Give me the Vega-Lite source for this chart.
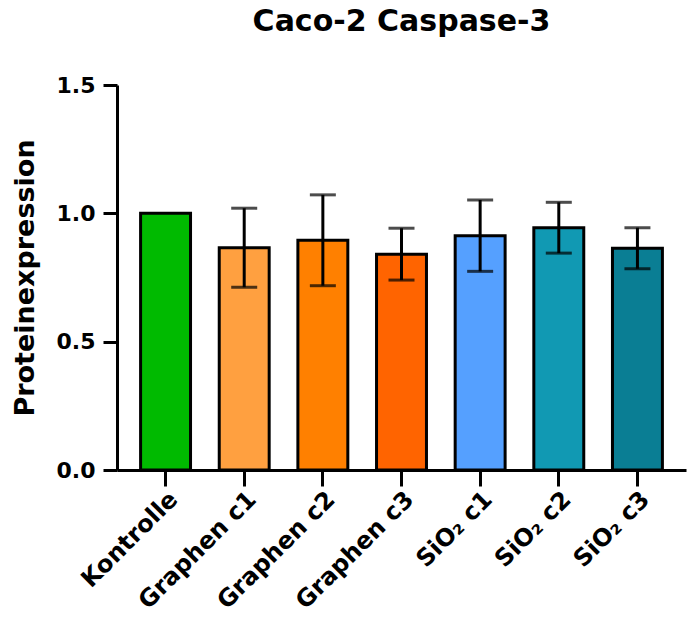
{
  "$schema": "https://vega.github.io/schema/vega-lite/v6.json",
  "autosize": "none",
  "width": 569,
  "height": 385,
  "padding": {"left": 117, "top": 85, "right": 3, "bottom": 153},
  "background": "white",
  "title": {
    "text": "Caco-2 Caspase-3",
    "font": "DejaVu Sans",
    "fontSize": 30,
    "fontWeight": "bold",
    "color": "black",
    "anchor": "middle",
    "frame": "group",
    "baseline": "alphabetic",
    "offset": 13
  },
  "config": {
    "view": {"stroke": null},
    "axis": {
      "domainColor": "black",
      "domainWidth": 3,
      "tickColor": "black",
      "tickWidth": 3,
      "labelColor": "black",
      "titleColor": "black",
      "labelFont": "DejaVu Sans",
      "titleFont": "DejaVu Sans",
      "labelFontWeight": "bold",
      "titleFontWeight": "bold",
      "grid": false
    }
  },
  "data": {
    "values": [
      {"group": "Kontrolle", "mean": 1.0, "lo": null, "hi": null},
      {"group": "Graphen c1", "mean": 0.866, "lo": 0.712, "hi": 1.02},
      {"group": "Graphen c2", "mean": 0.895, "lo": 0.718, "hi": 1.072},
      {"group": "Graphen c3", "mean": 0.841, "lo": 0.74, "hi": 0.942},
      {"group": "SiO₂ c1", "mean": 0.913, "lo": 0.774, "hi": 1.052},
      {"group": "SiO₂ c2", "mean": 0.944, "lo": 0.845, "hi": 1.043},
      {"group": "SiO₂ c3", "mean": 0.864, "lo": 0.784, "hi": 0.944}
    ]
  },
  "encoding": {
    "x": {
      "field": "group",
      "type": "nominal",
      "sort": null,
      "scale": {"paddingInner": 0.365, "paddingOuter": 0.3},
      "axis": {
        "title": null,
        "labelAngle": -45,
        "labelFontSize": 24,
        "tickSize": 16,
        "labelPadding": 1
      }
    }
  },
  "layer": [
    {
      "mark": {"type": "bar", "stroke": "black", "strokeWidth": 3},
      "encoding": {
        "y": {
          "field": "mean",
          "type": "quantitative",
          "scale": {"domain": [0, 1.5], "nice": false},
          "axis": {
            "title": "Proteinexpression",
            "titleFontSize": 27,
            "titlePadding": 17,
            "values": [0, 0.5, 1, 1.5],
            "format": ".1f",
            "labelFontSize": 22,
            "tickSize": 14,
            "labelPadding": 8
          }
        },
        "color": {
          "field": "group",
          "type": "nominal",
          "sort": null,
          "legend": null,
          "scale": {
            "domain": ["Kontrolle", "Graphen c1", "Graphen c2", "Graphen c3", "SiO₂ c1", "SiO₂ c2", "SiO₂ c3"],
            "range": ["#00BA00", "#FFA040", "#FF8000", "#FF6400", "#55A0FF", "#1199B3", "#0A7E94"]
          }
        }
      }
    },
    {
      "mark": {"type": "rule", "color": "black", "strokeWidth": 3},
      "encoding": {
        "y": {"field": "lo", "type": "quantitative", "scale": {"domain": [0, 1.5], "nice": false}},
        "y2": {"field": "hi"}
      }
    },
    {
      "mark": {"type": "tick", "color": "black", "thickness": 3, "size": 26},
      "encoding": {
        "y": {"field": "lo", "type": "quantitative", "scale": {"domain": [0, 1.5], "nice": false}}
      }
    },
    {
      "mark": {"type": "tick", "color": "black", "thickness": 3, "size": 26},
      "encoding": {
        "y": {"field": "hi", "type": "quantitative", "scale": {"domain": [0, 1.5], "nice": false}}
      }
    }
  ]
}
